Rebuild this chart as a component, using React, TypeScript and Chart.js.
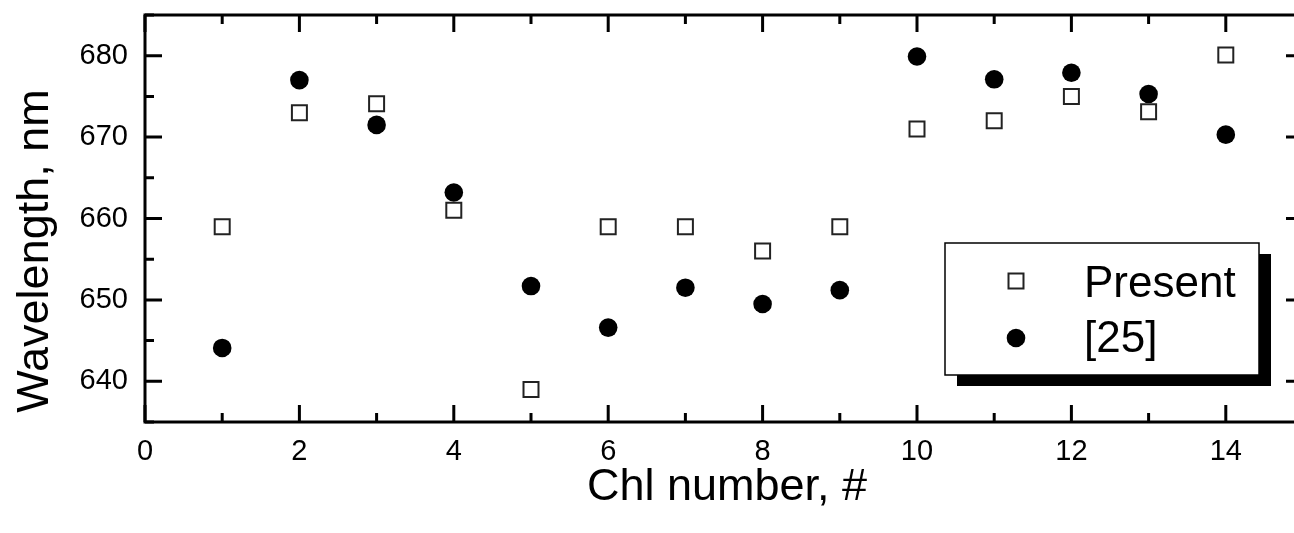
import React, { useEffect, useRef } from "react";
import { Chart, registerables } from "chart.js";

Chart.register(...registerables);

const chlNumbers = [1, 2, 3, 4, 5, 6, 7, 8, 9, 10, 11, 12, 13, 14];
const presentValues = [659, 673, 674.1, 661, 639, 659, 659, 656, 659, 671, 672, 675, 673.1, 680.1];
const ref25Values = [644.1, 677.0, 671.5, 663.2, 651.7, 646.6, 651.5, 649.5, 651.2, 679.9, 677.1, 677.9, 675.3, 670.3];
const seriesLabels = ["Present", "[25]"];
const xTickValues = [0, 2, 4, 6, 8, 10, 12, 14];
const xMinorTickValues = [1, 3, 5, 7, 9, 11, 13, 15];
const yTickValues = [640, 650, 660, 670, 680];
const yMinorTickValues = [635, 645, 655, 665, 675, 685];
const xTitle = "Chl number, #";
const yTitle = "Wavelength, nm";

const FONT = "'Liberation Sans', Arial, Helvetica, sans-serif";

const framePlugin = {
  id: "originFrame",
  afterDraw(chart: any) {
    const { ctx, chartArea, scales } = chart;
    const { left, right, top, bottom } = chartArea;
    const xs = scales.x;
    const ys = scales.y;
    ctx.save();
    ctx.strokeStyle = "#000";
    ctx.lineWidth = 3;
    ctx.lineCap = "butt";
    ctx.strokeRect(left, top, right - left, bottom - top);

    const major = 17;
    const minor = 9;
    ctx.beginPath();
    const xTick = (v: number, len: number) => {
      const px = xs.getPixelForValue(v);
      ctx.moveTo(px, bottom);
      ctx.lineTo(px, bottom - len);
      ctx.moveTo(px, top);
      ctx.lineTo(px, top + len);
    };
    const yTick = (v: number, len: number) => {
      const py = ys.getPixelForValue(v);
      ctx.moveTo(left, py);
      ctx.lineTo(left + len, py);
      ctx.moveTo(right, py);
      ctx.lineTo(right - len, py);
    };
    xTickValues.forEach((v) => xTick(v, major));
    xMinorTickValues.forEach((v) => xTick(v, minor));
    yTickValues.forEach((v) => yTick(v, major));
    yMinorTickValues.forEach((v) => yTick(v, minor));
    ctx.stroke();

    // axis titles
    ctx.fillStyle = "#000";
    ctx.font = `45px ${FONT}`;
    ctx.textAlign = "center";
    ctx.textBaseline = "alphabetic";
    ctx.fillText(xTitle, 727, 500);
    ctx.save();
    ctx.translate(48, 251);
    ctx.rotate(-Math.PI / 2);
    ctx.fillText(yTitle, 0, 0);
    ctx.restore();

    // legend with shadow
    const lx = 945, ly = 243, lw = 314, lh = 132;
    ctx.fillStyle = "#000";
    ctx.fillRect(lx + 12, ly + 11, lw, lh);
    ctx.fillStyle = "#fff";
    ctx.fillRect(lx, ly, lw, lh);
    ctx.lineWidth = 1.5;
    ctx.strokeStyle = "#000";
    ctx.strokeRect(lx, ly, lw, lh);

    const ds = chart.data.datasets;
    const rows = [281, 338];
    ds.forEach((d: any, i: number) => {
      const cy = rows[i];
      const cx = 1016;
      ctx.beginPath();
      if (d.pointStyle === "rect") {
        const s = d.pointRadius * Math.SQRT1_2;
        ctx.rect(cx - s, cy - s, 2 * s, 2 * s);
        ctx.fillStyle = d.backgroundColor;
        ctx.fill();
        ctx.lineWidth = d.borderWidth;
        ctx.strokeStyle = d.borderColor;
        ctx.stroke();
      } else {
        ctx.arc(cx, cy, d.pointRadius, 0, Math.PI * 2);
        ctx.fillStyle = d.backgroundColor;
        ctx.fill();
      }
      ctx.fillStyle = "#000";
      ctx.font = `44px ${FONT}`;
      ctx.textAlign = "left";
      ctx.textBaseline = "alphabetic";
      ctx.fillText(d.label, 1084, [297, 352][i]);
    });
    ctx.restore();
  },
};

export default function App() {
  const canvasRef = useRef<HTMLCanvasElement | null>(null);

  useEffect(() => {
    const canvas = canvasRef.current;
    if (!canvas) return;
    const chart = new Chart(canvas, {
      type: "scatter",
      data: {
        datasets: [
          {
            label: seriesLabels[0],
            data: chlNumbers.map((x, i) => ({ x, y: presentValues[i] })),
            pointStyle: "rect",
            pointRadius: 10.6,
            pointHoverRadius: 10.6,
            backgroundColor: "#ffffff",
            borderColor: "#222222",
            borderWidth: 2,
            showLine: false,
          },
          {
            label: seriesLabels[1],
            data: chlNumbers.map((x, i) => ({ x, y: ref25Values[i] })),
            pointStyle: "circle",
            pointRadius: 9.3,
            pointHoverRadius: 9.3,
            backgroundColor: "#000000",
            borderColor: "#000000",
            borderWidth: 0,
            showLine: false,
          },
        ],
      },
      options: {
        animation: false,
        responsive: false,
        devicePixelRatio: 1,
        layout: { padding: { top: 15, right: 17, left: 0, bottom: 0 } },
        plugins: {
          legend: { display: false },
          tooltip: { enabled: false },
        },
        scales: {
          x: {
            type: "linear",
            min: 0,
            max: 15,
            grid: { display: false, drawTicks: false },
            border: { display: false },
            afterBuildTicks: (s: any) => {
              s.ticks = xTickValues.map((value) => ({ value }));
            },
            afterFit: (s: any) => {
              s.height = 111;
              s.paddingLeft = 0;
              s.paddingRight = 0;
              s.paddingTop = 0;
              s.paddingBottom = 0;
            },
            ticks: {
              color: "#000",
              padding: 13,
              maxRotation: 0,
              autoSkip: false,
              font: { family: FONT, size: 29 },
            },
          },
          y: {
            type: "linear",
            min: 635,
            max: 685,
            grid: { display: false, drawTicks: false },
            border: { display: false },
            afterBuildTicks: (s: any) => {
              s.ticks = yTickValues.map((value) => ({ value }));
            },
            afterFit: (s: any) => {
              s.width = 145;
              s.paddingLeft = 0;
              s.paddingRight = 0;
              s.paddingTop = 0;
              s.paddingBottom = 0;
            },
            ticks: {
              color: "#000",
              padding: 17,
              autoSkip: false,
              font: { family: FONT, size: 29 },
            },
          },
        },
      },
      plugins: [framePlugin],
    });
    return () => chart.destroy();
  }, []);

  return (
    <div
      style={{
        position: "fixed",
        left: 0,
        top: 0,
        width: 1294,
        height: 533,
        overflow: "hidden",
        background: "#fff",
      }}
    >
      <canvas
        ref={canvasRef}
        width={1320}
        height={533}
        style={{ width: 1320, height: 533, display: "block" }}
      />
    </div>
  );
}
